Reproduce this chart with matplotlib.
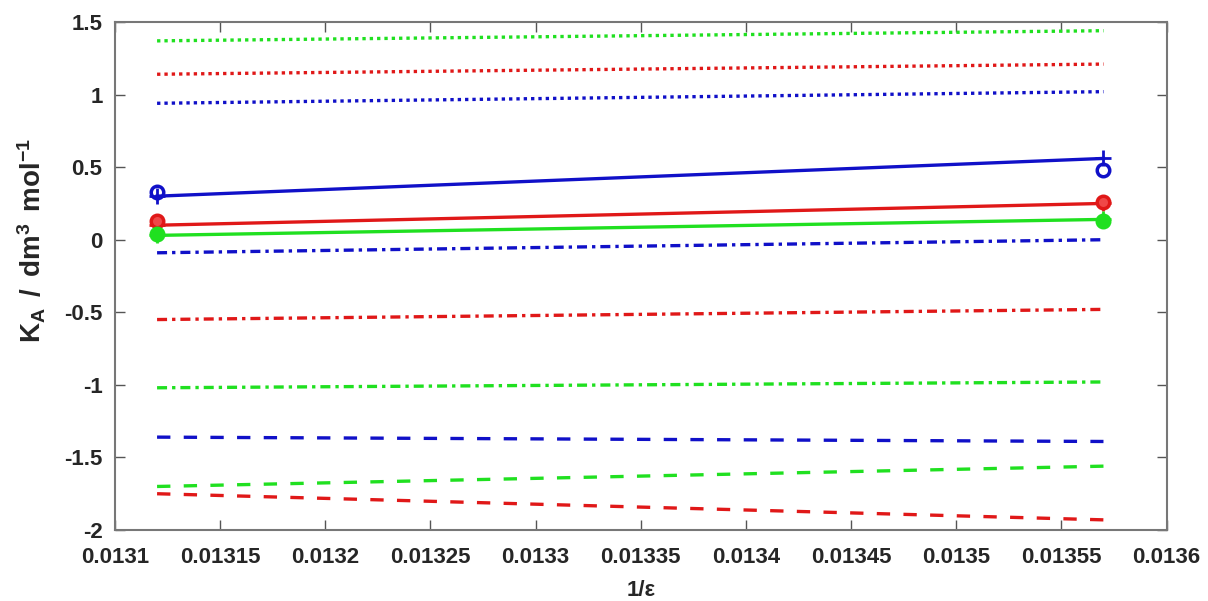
import matplotlib
matplotlib.use("Agg")
import matplotlib.pyplot as plt
from matplotlib.ticker import FuncFormatter
import numpy as np

plt.rcParams['font.family'] = ['Liberation Sans', 'DejaVu Sans']
plt.rcParams['font.weight'] = 'bold'
plt.rcParams['mathtext.fontset'] = 'custom'
plt.rcParams['mathtext.bf'] = 'Liberation Sans:bold'
plt.rcParams['mathtext.rm'] = 'Liberation Sans:bold'
plt.rcParams['mathtext.it'] = 'Liberation Sans:bold'
plt.rcParams['mathtext.default'] = 'bf'

# x positions of the two end points (1/epsilon)
inv_eps = [0.01312, 0.01357]

# fitted lines (value at left end, value at right end)
blue_fit = [0.30, 0.56]
red_fit = [0.10, 0.25]
green_fit = [0.03, 0.14]

# measured points
blue_pts = [0.33, 0.48]
red_pts = [0.13, 0.26]
green_pts = [0.04, 0.13]

# dotted curves
blue_dot = [0.94, 1.02]
red_dot = [1.14, 1.21]
green_dot = [1.37, 1.44]

# dash-dot curves
blue_dashdot = [-0.09, 0.0]
red_dashdot = [-0.55, -0.48]
green_dashdot = [-1.02, -0.98]

# dashed curves
blue_dash = [-1.36, -1.39]
green_dash = [-1.70, -1.56]
red_dash = [-1.75, -1.93]

blue = '#1010c8'
red = '#e01818'
green = '#20e020'

fig = plt.figure(figsize=(12.08, 6.01), dpi=100)
ax = fig.add_axes([0.0952, 0.1181, 0.8705, 0.8453])

lw = 2.4
for ys, c in [(blue_dot, blue), (red_dot, red), (green_dot, green)]:
    ax.plot(inv_eps, ys, linestyle=(0, (1, 1.2)), color=c, lw=lw)
for ys, c in [(blue_dashdot, blue), (red_dashdot, red), (green_dashdot, green)]:
    ax.plot(inv_eps, ys, linestyle=(0, (3, 1.5, 1, 1.5)), color=c, lw=lw)
for ys, c in [(blue_dash, blue), (green_dash, green), (red_dash, red)]:
    ax.plot(inv_eps, ys, linestyle=(0, (4, 4)), color=c, lw=lw)

ax.plot(inv_eps, blue_fit, '-+', color=blue, lw=lw, ms=12, mew=2)
ax.plot(inv_eps, red_fit, '-+', color=red, lw=lw, ms=12, mew=2)
ax.plot(inv_eps, green_fit, '-+', color=green, lw=lw, ms=12, mew=2)

ax.plot(inv_eps, blue_pts, 'o', color=blue, mfc='none', ms=9, mew=2.5)
ax.plot(inv_eps, red_pts, 'o', color=red, mfc='#f04848', ms=9, mew=2.5)
ax.plot(inv_eps, green_pts, 'o', color=green, mfc=green, ms=9, mew=2.5)

ax.set_xlim(0.0131, 0.0136)
ax.set_ylim(-2, 1.5)
ax.set_xticks(np.arange(0.0131, 0.013601, 0.00005))
ax.set_yticks(np.arange(-2, 1.51, 0.5))
ax.xaxis.set_major_formatter(FuncFormatter(lambda v, p: '%g' % round(v, 6)))
ax.yaxis.set_major_formatter(FuncFormatter(lambda v, p: '%g' % v))

ax.tick_params(direction='in', top=True, right=True, length=7, width=1,
               labelsize=16, colors='#555555', labelcolor='#262626')
ax.tick_params(axis='x', pad=12)
ax.tick_params(axis='y', pad=9)
for s in ax.spines.values():
    s.set_color('#777777')
    s.set_linewidth(1.5)

ax.set_ylabel(r'K$_A$ $\,$/$\,$ dm$^3$ $\,$mol$^{-1}$', fontsize=20, fontweight='bold',
              color='#262626')
ax.yaxis.set_label_coords(-0.064, 0.57)
ax.set_xlabel('1/ε', fontsize=16, fontweight='bold', color='#262626', labelpad=9)

fig.savefig('out.png', dpi=100)
